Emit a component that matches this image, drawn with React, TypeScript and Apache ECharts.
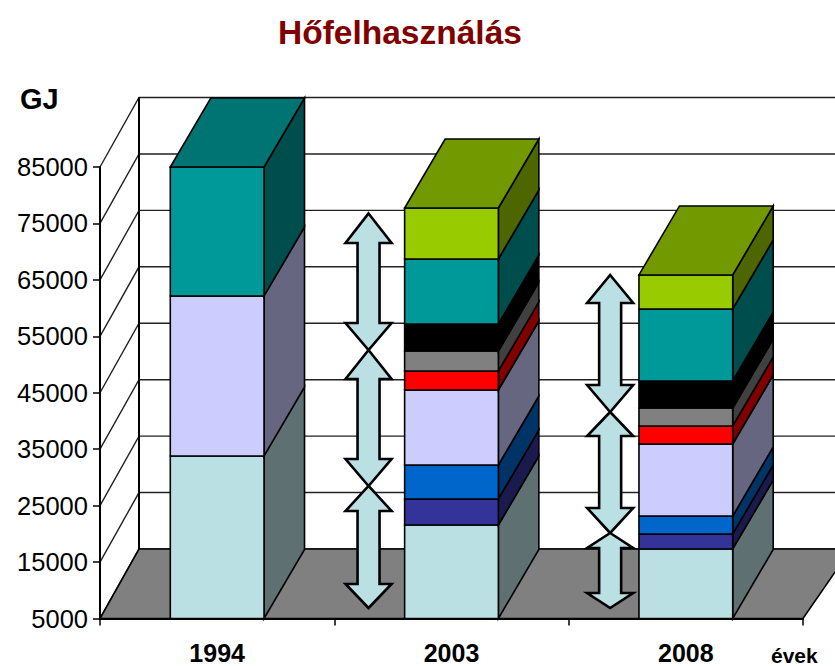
import React, { useEffect, useRef } from "react";
import * as echarts from "echarts";

const title = "Hőfelhasználás";
const unitLabel = "GJ";
const xName = "évek";
const categories = ["1994", "2003", "2008"];
const yTicks = [5000, 15000, 25000, 35000, 45000, 55000, 65000, 75000, 85000];

// GJ per layer, bottom to top
const lightBlue = [33800, 21570, 17320];
const navy = [0, 4610, 2650];
const blue = [0, 6020, 3190];
const lilac = [28350, 13290, 12760];
const red = [0, 3370, 3190];
const gray = [0, 3540, 3190];
const black = [0, 4790, 4790];
const teal = [22850, 11510, 12750];
const green = [0, 9040, 6030];

// [category, top tip, upper neck, lower neck, bottom tip] in GJ
const arrows2003 = [
  [1, 76766, 71540, 57360, 52580],
  [1, 52580, 47440, 33260, 28480],
  [1, 28480, 24050, 11110, 6860],
];
const arrows2008 = [
  [2, 65870, 60910, 46370, 41590],
  [2, 41590, 37340, 24580, 20150],
  [2, 20150, 17490, 9520, 6860],
];

const layers = [
  { values: lightBlue, front: "#BBE0E3", side: "#5E7072", top: "#8CA8AA" },
  { values: navy, front: "#333399", side: "#1A1A4D", top: "#262673" },
  { values: blue, front: "#0066CC", side: "#003366", top: "#004D99" },
  { values: lilac, front: "#CCCCFF", side: "#666680", top: "#9999BF" },
  { values: red, front: "#FF0000", side: "#800000", top: "#BF0000" },
  { values: gray, front: "#808080", side: "#404040", top: "#606060" },
  { values: black, front: "#000000", side: "#000000", top: "#000000" },
  { values: teal, front: "#009999", side: "#004D4D", top: "#007373" },
  { values: green, front: "#99CC00", side: "#4D6600", top: "#739900" },
];

const FONT = "'Liberation Sans', Arial, sans-serif";
const WALL_DX = 39;
const WALL_DY = -69.5;
const BAR_DX = 40.5;
const BAR_DY = -69;
const ARROW_FILL = "#BBE0E3";

function layerTop(cat: number) {
  let t = -1;
  layers.forEach((l, i) => {
    if (l.values[cat] > 0) t = i;
  });
  return t;
}

function stackSeries(): any[] {
  return layers.map((layer, li) => ({
    type: "custom",
    z: 5,
    silent: true,
    data: categories.map((_, c) => {
      let start = 0;
      for (let i = 0; i < li; i++) start += layers[i].values[c];
      return [c, start, start + layer.values[c]];
    }),
    encode: { x: 0, y: [1, 2] },
    renderItem: (params: any, api: any) => {
      const c = api.value(0);
      const from = api.value(1);
      const to = api.value(2);
      if (to <= from) return null;
      const half = (api.size([1, 0])[0] * 0.4) / 2;
      const lowV = Math.max(from, 5000);
      const pLow = api.coord([c, lowV]);
      const pHigh = api.coord([c, to]);
      const l = pLow[0] - half;
      const r = pLow[0] + half;
      const y0 = pLow[1];
      const y1 = pHigh[1];
      const stroke = { stroke: "#000", lineWidth: 1.6, lineJoin: "miter" };
      const children: any[] = [
        {
          type: "polygon",
          shape: { points: [[r, y0], [r + BAR_DX, y0 + BAR_DY], [r + BAR_DX, y1 + BAR_DY], [r, y1]] },
          style: { fill: layer.side, ...stroke },
        },
        {
          type: "rect",
          shape: { x: l, y: y1, width: r - l, height: y0 - y1 },
          style: { fill: layer.front, ...stroke },
        },
      ];
      if (layerTop(c) === li) {
        children.push({
          type: "polygon",
          shape: { points: [[l, y1], [r, y1], [r + BAR_DX, y1 + BAR_DY], [l + BAR_DX, y1 + BAR_DY]] },
          style: { fill: layer.top, ...stroke },
        });
      }
      return { type: "group", children };
    },
  }));
}

function arrowSeries(): any {
  return {
    type: "custom",
    z: 8,
    silent: true,
    data: [...arrows2003, ...arrows2008],
    encode: { x: 0, y: [1, 2, 3, 4] },
    renderItem: (params: any, api: any) => {
      const c = api.value(0);
      const band = api.size([1, 0])[0];
      const base = api.coord([c, api.value(1)]);
      const cx = base[0] - band * (c === 1 ? 0.354 : 0.323);
      const yTip = base[1];
      const yA = api.coord([c, api.value(2)])[1];
      const yB = api.coord([c, api.value(3)])[1];
      const yEnd = api.coord([c, api.value(4)])[1];
      const head = 23;
      const shaft = 11;
      return {
        type: "polygon",
        shape: {
          points: [
            [cx, yTip], [cx + head, yA], [cx + shaft, yA], [cx + shaft, yB], [cx + head, yB], [cx, yEnd],
            [cx - head, yB], [cx - shaft, yB], [cx - shaft, yA], [cx - head, yA],
          ],
        },
        style: { fill: ARROW_FILL, stroke: "#000", lineWidth: 2.6, lineJoin: "miter" },
      };
    },
  };
}

function wallSeries(): any[] {
  return [
    {
      type: "custom",
      z: 1,
      silent: true,
      data: yTicks.map((v) => [0, v]),
      encode: { x: 0, y: 1 },
      renderItem: (params: any, api: any) => {
        const g = params.coordSys;
        const y = api.coord([0, api.value(1)])[1];
        const lineStyle = { stroke: "#222", lineWidth: 1.4, fill: "none" };
        return {
          type: "polyline",
          shape: { points: [[g.x, y], [g.x + WALL_DX, y + WALL_DY], [835, y + WALL_DY]] },
          style: lineStyle,
        };
      },
    },
    {
      type: "custom",
      z: 2,
      silent: true,
      data: [[0, 5000]],
      encode: { x: 0, y: 1 },
      renderItem: (params: any) => {
        const g = params.coordSys;
        const yb = g.y + g.height;
        const yt = g.y;
        return {
          type: "group",
          children: [
            {
              type: "line",
              shape: { x1: g.x + WALL_DX, y1: yt + WALL_DY, x2: g.x + WALL_DX, y2: yb + WALL_DY },
              style: { stroke: "#000", lineWidth: 2 },
            },
            {
              type: "polygon",
              shape: {
                points: [
                  [g.x, yb], [g.x + WALL_DX, yb + WALL_DY],
                  [g.x + g.width + 48, yb + WALL_DY], [g.x + g.width, yb],
                ],
              },
              style: { fill: "#808080", stroke: "#000", lineWidth: 1.6 },
            },
          ],
        };
      },
    },
  ];
}

export default function App() {
  const ref = useRef<HTMLDivElement>(null);
  useEffect(() => {
    document.body.style.margin = "0";
    const chart = echarts.init(ref.current!, undefined, { renderer: "svg" });
    chart.setOption({
      animation: false,
      backgroundColor: "#fff",
      textStyle: { fontFamily: FONT },
      title: {
        text: title,
        left: 273,
        top: 10,
        textStyle: { fontFamily: FONT, fontSize: 33.5, fontWeight: "bold", color: "#800000" },
      },
      grid: { left: 100, top: 167, width: 703, height: 451.5 },
      xAxis: {
        type: "category",
        data: categories,
        axisLine: { show: true, lineStyle: { color: "#000", width: 2 } },
        axisTick: { show: true, length: 7, lineStyle: { color: "#000", width: 1.5 } },
        axisLabel: { color: "#000", fontFamily: FONT, fontSize: 25, fontWeight: "bold", margin: 22 },
        splitLine: { show: false },
        z: 6,
      },
      yAxis: {
        type: "value",
        min: 5000,
        max: 85000,
        axisLine: { show: true, lineStyle: { color: "#000", width: 2 } },
        axisTick: { show: true, length: 7, customValues: yTicks, lineStyle: { color: "#000", width: 1.5 } },
        axisLabel: {
          color: "#000",
          fontFamily: FONT,
          fontSize: 25.5,
          margin: 12,
          padding: [3, 0, 0, 0],
          customValues: yTicks,
          formatter: (v: number) => String(v),
        },
        splitLine: { show: false },
        z: 6,
      },
      graphic: [
        {
          type: "text",
          x: 20,
          y: 84,
          style: { text: unitLabel, font: `bold 29px ${FONT}`, fill: "#000" },
        },
        {
          type: "text",
          x: 771,
          y: 645,
          style: { text: xName, font: `bold 21px ${FONT}`, fill: "#000" },
        },
      ],
      series: [...wallSeries(), ...stackSeries(), arrowSeries()],
    });
    return () => chart.dispose();
  }, []);
  return <div ref={ref} style={{ width: 835, height: 666, overflow: "hidden" }} />;
}
